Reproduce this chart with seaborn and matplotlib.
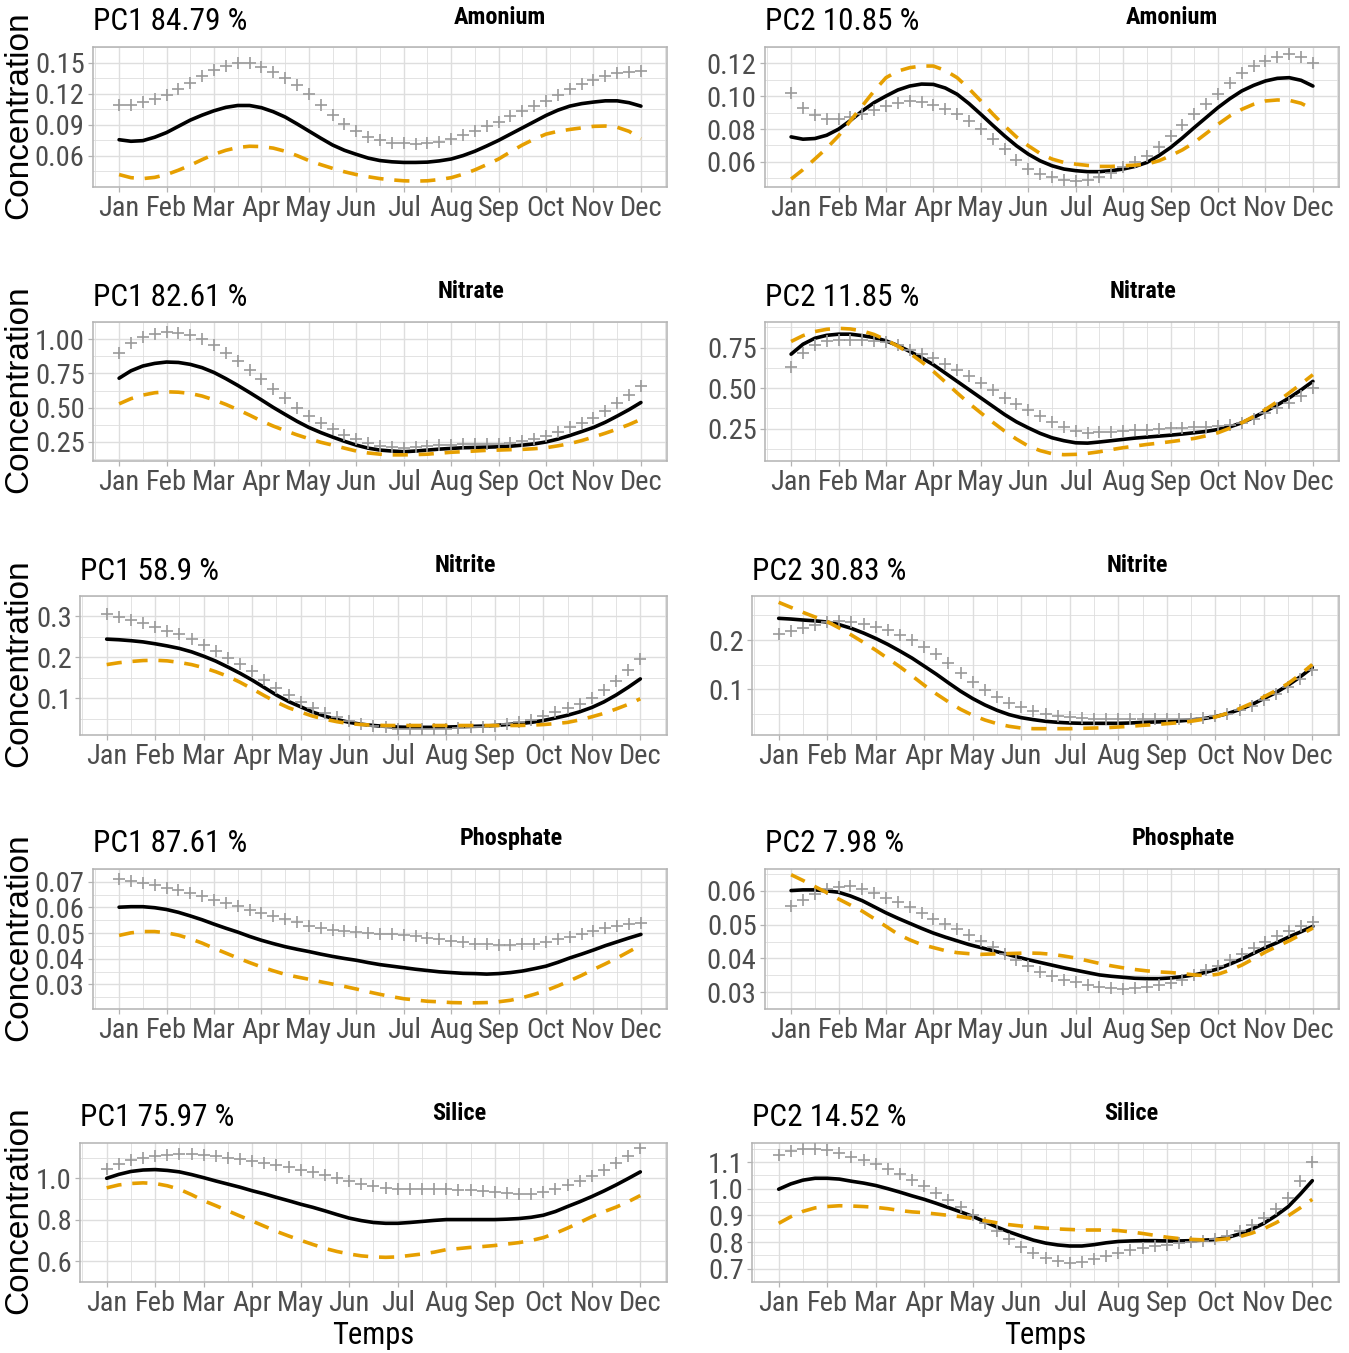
import numpy as np
import pandas as pd
import matplotlib
matplotlib.use("Agg")
import matplotlib.pyplot as plt
from matplotlib import font_manager
import seaborn as sns

# ---- data: curves sampled every quarter month -----------------------------
months = [1, 1.25, 1.5, 1.75, 2, 2.25, 2.5, 2.75, 3, 3.25, 3.5, 3.75,
          4, 4.25, 4.5, 4.75, 5, 5.25, 5.5, 5.75, 6, 6.25, 6.5, 6.75,
          7, 7.25, 7.5, 7.75, 8, 8.25, 8.5, 8.75, 9, 9.25, 9.5, 9.75,
          10, 10.25, 10.5, 10.75, 11, 11.25, 11.5, 11.75, 12]
month_labels = ["Jan", "Feb", "Mar", "Apr", "May", "Jun",
                "Jul", "Aug", "Sep", "Oct", "Nov", "Dec"]

# Amonium
amo_pc1_pct = "84.79"
amo_pc1_mean = [.0756, .0741, .0747, .0780, .0825, .0885, .0945, .0993, .1035, .1068, .1086, .1086,
                .1065, .1026, .0975, .0909, .0840, .0771, .0705, .0654, .0615, .0579, .0555, .0543,
                .0537, .0537, .0540, .0552, .0570, .0603, .0645, .0696, .0750, .0810, .0870, .0930,
                .0990, .1041, .1080, .1104, .1119, .1131, .1131, .1113, .1080]
amo_pc1_plus = [.1086, .1095, .1119, .1146, .1185, .1242, .1305, .1368, .1425, .1470, .1494, .1491,
                .1461, .1413, .1350, .1281, .1200, .1095, .0990, .0906, .0840, .0786, .0750, .0729,
                .0720, .0717, .0720, .0738, .0765, .0798, .0840, .0885, .0930, .0981, .1035, .1080,
                .1125, .1185, .1245, .1293, .1335, .1371, .1395, .1410, .1416]
amo_pc1_minus = [.0420, .0390, .0381, .0393, .0420, .0462, .0510, .0564, .0615, .0654, .0681, .0693,
                 .0690, .0675, .0645, .0603, .0555, .0516, .0480, .0447, .0420, .0399, .0381, .0369,
                 .0360, .0357, .0360, .0372, .0390, .0423, .0465, .0516, .0570, .0639, .0705, .0762,
                 .0810, .0837, .0855, .0870, .0885, .0888, .0876, .0837, .0765]
amo_pc2_pct = "10.85"
amo_pc2_mean = [.0752, .0738, .0742, .0762, .0799, .0852, .0910, .0961, .1001, .1038, .1062, .1074,
                .1072, .1050, .1012, .0955, .0890, .0823, .0758, .0698, .0647, .0606, .0576, .0556,
                .0546, .0540, .0540, .0546, .0556, .0572, .0596, .0637, .0687, .0746, .0809, .0870,
                .0931, .0985, .1032, .1066, .1093, .1109, .1113, .1097, .1062]
amo_pc2_plus = [.1018, .0931, .0884, .0864, .0860, .0872, .0890, .0916, .0941, .0961, .0971, .0965,
                .0945, .0920, .0890, .0849, .0799, .0738, .0677, .0612, .0556, .0525, .0505, .0491,
                .0485, .0491, .0505, .0531, .0566, .0600, .0637, .0693, .0758, .0825, .0890, .0951,
                .1012, .1078, .1143, .1184, .1214, .1241, .1255, .1241, .1204]
amo_pc2_minus = [.0495, .0552, .0617, .0683, .0758, .0850, .0941, .1032, .1113, .1153, .1174, .1184,
                 .1184, .1157, .1113, .1046, .0971, .0892, .0819, .0752, .0698, .0651, .0617, .0596,
                 .0586, .0578, .0572, .0572, .0576, .0580, .0586, .0606, .0637, .0673, .0718, .0773,
                 .0829, .0880, .0920, .0951, .0971, .0977, .0975, .0957, .0920]

# Nitrate
nta_pc1_pct = "82.61"
nta_pc1_mean = [.715, .769, .804, .823, .833, .830, .816, .792, .757, .712, .663, .611,
                .557, .502, .451, .401, .356, .319, .286, .255, .227, .205, .191, .184,
                .179, .184, .191, .198, .203, .208, .210, .212, .215, .219, .227, .236,
                .250, .271, .297, .326, .356, .394, .439, .486, .538]
nta_pc1_plus = [.901, .972, 1.017, 1.038, 1.050, 1.047, 1.028, 1.000, .958, .901, .840, .776,
                .710, .639, .568, .500, .439, .389, .344, .304, .269, .241, .222, .212,
                .203, .210, .222, .229, .231, .236, .236, .236, .238, .245, .257, .271,
                .293, .321, .356, .392, .427, .474, .533, .594, .660]
nta_pc1_minus = [.528, .566, .592, .609, .616, .613, .604, .585, .557, .524, .486, .446,
                 .403, .366, .333, .302, .274, .248, .227, .205, .184, .170, .161, .156,
                 .156, .158, .161, .168, .175, .179, .184, .189, .191, .194, .196, .201,
                 .208, .222, .238, .260, .286, .314, .344, .377, .415]
nta_pc2_pct = "11.85"
nta_pc2_mean = [.709, .770, .807, .825, .832, .832, .823, .811, .791, .762, .726, .687,
                .644, .593, .542, .491, .440, .389, .338, .293, .256, .222, .195, .177,
                .164, .162, .169, .177, .185, .193, .199, .205, .211, .218, .226, .234,
                .246, .262, .287, .320, .358, .397, .440, .489, .542]
nta_pc2_plus = [.632, .717, .766, .789, .795, .799, .795, .793, .785, .766, .736, .711,
                .685, .648, .613, .575, .532, .487, .440, .401, .365, .328, .293, .262,
                .236, .226, .228, .232, .236, .242, .244, .248, .252, .254, .260, .260,
                .267, .271, .287, .313, .348, .377, .409, .452, .501]
nta_pc2_minus = [.787, .823, .848, .862, .868, .864, .852, .830, .797, .758, .715, .662,
                 .603, .538, .471, .407, .348, .291, .236, .187, .144, .116, .097, .091,
                 .093, .099, .109, .122, .134, .144, .154, .162, .171, .181, .191, .207,
                 .226, .254, .287, .326, .369, .417, .471, .526, .583]

# Nitrite
nti_pc1_pct = "58.9"
nti_pc1_mean = [.2445, .2430, .2407, .2377, .2331, .2278, .2217, .2134, .2027, .1906, .1761, .1609,
                .1442, .1260, .1077, .0918, .0789, .0659, .0560, .0477, .0408, .0363, .0332, .0310,
                .0294, .0287, .0287, .0287, .0294, .0302, .0310, .0317, .0332, .0355, .0378, .0408,
                .0454, .0515, .0583, .0667, .0773, .0910, .1077, .1267, .1472]
nti_pc1_plus = [.3068, .2992, .2916, .2833, .2734, .2643, .2559, .2445, .2308, .2164, .1989, .1830,
                .1655, .1457, .1252, .1070, .0918, .0758, .0636, .0530, .0439, .0370, .0325, .0287,
                .0256, .0241, .0241, .0241, .0256, .0272, .0287, .0302, .0332, .0378, .0424, .0477,
                .0553, .0652, .0758, .0864, .1001, .1191, .1419, .1685, .1959]
nti_pc1_minus = [.1822, .1868, .1898, .1921, .1928, .1913, .1875, .1822, .1746, .1647, .1533, .1389,
                 .1229, .1062, .0902, .0766, .0659, .0560, .0484, .0424, .0378, .0355, .0340, .0332,
                 .0332, .0332, .0332, .0332, .0332, .0332, .0332, .0332, .0332, .0332, .0332, .0340,
                 .0355, .0378, .0408, .0469, .0545, .0629, .0735, .0849, .0986]
nti_pc2_pct = "30.83"
nti_pc2_mean = [.2442, .2428, .2408, .2391, .2367, .2313, .2238, .2143, .2034, .1912, .1776, .1633,
                .1470, .1306, .1130, .0960, .0810, .0681, .0572, .0484, .0422, .0382, .0348, .0327,
                .0314, .0307, .0307, .0307, .0307, .0314, .0327, .0334, .0341, .0354, .0375, .0402,
                .0443, .0504, .0586, .0688, .0810, .0932, .1082, .1252, .1442]
nti_pc2_plus = [.2116, .2190, .2252, .2313, .2360, .2381, .2374, .2333, .2272, .2197, .2102, .1993,
                .1864, .1708, .1524, .1334, .1150, .0987, .0844, .0728, .0640, .0565, .0504, .0463,
                .0436, .0416, .0402, .0395, .0388, .0388, .0388, .0388, .0388, .0395, .0402, .0422,
                .0456, .0504, .0572, .0660, .0776, .0898, .1048, .1211, .1388]
nti_pc2_minus = [.2768, .2666, .2564, .2469, .2374, .2245, .2102, .1952, .1796, .1626, .1456, .1272,
                 .1082, .0905, .0742, .0592, .0470, .0375, .0300, .0246, .0211, .0198, .0198, .0198,
                 .0198, .0205, .0211, .0218, .0232, .0246, .0266, .0280, .0300, .0320, .0348, .0388,
                 .0436, .0511, .0606, .0715, .0844, .0973, .1116, .1300, .1504]

# Phosphate
pho_pc1_pct = "87.61"
pho_pc1_mean = [.0601, .0603, .0603, .0599, .0592, .0581, .0567, .0552, .0535, .0519, .0504, .0487,
                .0472, .0459, .0447, .0437, .0428, .0418, .0409, .0401, .0394, .0385, .0377, .0371,
                .0365, .0359, .0354, .0349, .0346, .0343, .0342, .0340, .0342, .0346, .0352, .0361,
                .0371, .0386, .0403, .0418, .0434, .0451, .0466, .0481, .0495]
pho_pc1_plus = [.0710, .0703, .0694, .0686, .0677, .0667, .0656, .0643, .0630, .0618, .0605, .0592,
                .0580, .0567, .0554, .0542, .0529, .0520, .0513, .0508, .0504, .0501, .0497, .0495,
                .0491, .0487, .0482, .0476, .0470, .0465, .0459, .0456, .0453, .0453, .0456, .0459,
                .0466, .0475, .0485, .0497, .0510, .0520, .0529, .0535, .0541]
pho_pc1_minus = [.0491, .0501, .0506, .0506, .0501, .0492, .0478, .0461, .0441, .0422, .0403, .0385,
                 .0368, .0353, .0339, .0329, .0320, .0310, .0301, .0292, .0282, .0271, .0261, .0252,
                 .0244, .0239, .0234, .0232, .0229, .0228, .0228, .0229, .0232, .0238, .0248, .0261,
                 .0276, .0294, .0314, .0335, .0358, .0380, .0403, .0428, .0453]
pho_pc2_pct = "7.98"
pho_pc2_mean = [.0601, .0603, .0603, .0600, .0596, .0585, .0571, .0553, .0535, .0519, .0504, .0489,
                .0475, .0463, .0452, .0441, .0432, .0423, .0414, .0405, .0396, .0388, .0380, .0372,
                .0365, .0358, .0351, .0347, .0344, .0341, .0340, .0340, .0342, .0346, .0351, .0359,
                .0369, .0383, .0398, .0415, .0432, .0447, .0464, .0479, .0495]
pho_pc2_plus = [.0554, .0574, .0592, .0605, .0613, .0614, .0606, .0594, .0579, .0566, .0552, .0535,
                .0518, .0502, .0487, .0468, .0452, .0433, .0414, .0395, .0376, .0361, .0348, .0337,
                .0329, .0322, .0315, .0312, .0310, .0312, .0316, .0321, .0326, .0337, .0351, .0365,
                .0378, .0396, .0414, .0432, .0450, .0466, .0481, .0495, .0508]
pho_pc2_minus = [.0648, .0631, .0613, .0595, .0576, .0558, .0540, .0518, .0495, .0472, .0455, .0441,
                 .0432, .0423, .0417, .0414, .0412, .0413, .0414, .0415, .0416, .0415, .0412, .0407,
                 .0401, .0393, .0385, .0378, .0372, .0367, .0363, .0360, .0358, .0355, .0351, .0349,
                 .0353, .0365, .0380, .0399, .0419, .0436, .0452, .0471, .0490]

# Silice
sil_pc1_pct = "75.97"
sil_pc1_mean = [1.000, 1.019, 1.033, 1.040, 1.042, 1.038, 1.031, 1.018, 1.003, .987, .972, .957,
                .940, .925, .908, .892, .875, .860, .843, .825, .808, .796, .787, .783,
                .783, .787, .792, .797, .801, .801, .801, .801, .801, .803, .806, .812,
                .822, .840, .864, .887, .912, .939, .968, .999, 1.031]
sil_pc1_plus = [1.044, 1.068, 1.086, 1.099, 1.107, 1.113, 1.117, 1.117, 1.114, 1.107, 1.100, 1.092,
                1.083, 1.075, 1.065, 1.054, 1.042, 1.029, 1.017, 1.001, .986, .972, .961, .953,
                .947, .947, .947, .947, .947, .946, .943, .940, .936, .931, .926, .926,
                .933, .947, .968, .987, 1.010, 1.039, 1.072, 1.107, 1.144]
sil_pc1_minus = [.954, .968, .975, .978, .975, .964, .947, .921, .892, .868, .843, .818,
                 .794, .769, .744, .722, .701, .681, .662, .647, .635, .626, .621, .619,
                 .621, .628, .635, .644, .656, .661, .667, .671, .676, .683, .690, .700,
                 .714, .735, .760, .787, .815, .839, .861, .887, .917]
sil_pc2_pct = "14.52"
sil_pc2_mean = [.998, 1.018, 1.032, 1.039, 1.039, 1.036, 1.028, 1.021, 1.012, 1.000, .987, .973,
                .960, .945, .929, .913, .896, .876, .856, .838, .822, .807, .796, .789,
                .785, .785, .790, .797, .802, .804, .805, .805, .804, .804, .805, .807,
                .809, .817, .830, .848, .870, .899, .932, .979, 1.030]
sil_pc2_plus = [1.125, 1.140, 1.148, 1.150, 1.145, 1.135, 1.120, 1.108, 1.093, 1.075, 1.055, 1.033,
                1.010, .985, .958, .930, .903, .872, .840, .810, .783, .758, .740, .728,
                .723, .725, .735, .748, .760, .770, .778, .785, .790, .795, .800, .805,
                .810, .822, .840, .862, .890, .925, .965, 1.030, 1.100]
sil_pc2_minus = [.870, .895, .915, .928, .933, .936, .935, .933, .930, .925, .918, .913,
                 .910, .905, .900, .895, .888, .880, .872, .865, .860, .856, .852, .849,
                 .847, .845, .845, .845, .843, .838, .832, .825, .818, .813, .810, .808,
                 .808, .812, .820, .833, .850, .872, .898, .928, .960]

# ---- panel descriptions ---------------------------------------------------
panels = [
    # (name, pc, pct, mean, plus, minus, yticks, decimals)
    ("Amonium", 1, amo_pc1_pct, amo_pc1_mean, amo_pc1_plus, amo_pc1_minus, [0.06, 0.09, 0.12, 0.15], 2),
    ("Amonium", 2, amo_pc2_pct, amo_pc2_mean, amo_pc2_plus, amo_pc2_minus, [0.06, 0.08, 0.10, 0.12], 2),
    ("Nitrate", 1, nta_pc1_pct, nta_pc1_mean, nta_pc1_plus, nta_pc1_minus, [0.25, 0.50, 0.75, 1.00], 2),
    ("Nitrate", 2, nta_pc2_pct, nta_pc2_mean, nta_pc2_plus, nta_pc2_minus, [0.25, 0.50, 0.75], 2),
    ("Nitrite", 1, nti_pc1_pct, nti_pc1_mean, nti_pc1_plus, nti_pc1_minus, [0.1, 0.2, 0.3], 1),
    ("Nitrite", 2, nti_pc2_pct, nti_pc2_mean, nti_pc2_plus, nti_pc2_minus, [0.1, 0.2], 1),
    ("Phosphate", 1, pho_pc1_pct, pho_pc1_mean, pho_pc1_plus, pho_pc1_minus, [0.03, 0.04, 0.05, 0.06, 0.07], 2),
    ("Phosphate", 2, pho_pc2_pct, pho_pc2_mean, pho_pc2_plus, pho_pc2_minus, [0.03, 0.04, 0.05, 0.06], 2),
    ("Silice", 1, sil_pc1_pct, sil_pc1_mean, sil_pc1_plus, sil_pc1_minus, [0.6, 0.8, 1.0], 1),
    ("Silice", 2, sil_pc2_pct, sil_pc2_mean, sil_pc2_plus, sil_pc2_minus, [0.7, 0.8, 0.9, 1.0, 1.1], 1),
]

# ---- fonts: prefer a narrow sans for ticks and titles ---------------------
sns.set_theme(style="white")

entries = font_manager.fontManager.ttflist
names = {f.name for f in entries}
narrow = None
narrow_stretch = "normal"
for cand in ["Liberation Sans Narrow", "Roboto Condensed", "Open Sans Condensed",
             "Noto Sans Condensed", "DejaVu Sans Condensed"]:
    if cand in names:
        narrow = cand
        break
if narrow is None:
    for f in entries:
        if f.name in ("Noto Sans", "Roboto", "Open Sans", "DejaVu Sans") and \
                str(f.stretch) in ("condensed", "semi-condensed", "75", "87.5"):
            narrow, narrow_stretch = f.name, "condensed"
            break

if narrow is None:
    narrow = "Liberation Sans"
    scale = 0.84          # regular width: shrink so the labels occupy the same room
else:
    scale = 1.0
plt.rcParams["font.family"] = [narrow, "DejaVu Sans"]
plt.rcParams["font.stretch"] = narrow_stretch

W, H = 1349, 1353
fig = plt.figure(figsize=(W / 100, H / 100), dpi=100)
fig.patch.set_facecolor("white")

row_y = [(47, 187), (322, 461), (596, 735), (869, 1009), (1143, 1282)]
name_cx = [500, 471, 465, 511, 459]
wide_rows = {2, 4}

tick_grey = "#4D4D4D"
frame_grey = "#B3B3B3"
grid_grey = "#DEDEDE"
orange = "#E69F00"

for i, (name, pc, pct, mean, plus, minus, yticks, dec) in enumerate(panels):
    r, c = divmod(i, 2)
    y0, y1 = row_y[r]
    x0 = (80 if r in wide_rows else 93) + 672 * c
    x1 = 667 + 672 * c
    ax = fig.add_axes([x0 / W, 1 - y1 / H, (x1 - x0) / W, (y1 - y0) / H])

    df = pd.DataFrame({"month": months, "mean": mean, "plus": plus, "minus": minus})

    sns.lineplot(data=df, x="month", y="mean", ax=ax, color="black", linewidth=2.6,
                 solid_joinstyle="round", solid_capstyle="round", zorder=3)
    sns.scatterplot(data=df, x="month", y="plus", ax=ax, marker="+", color="#9A9A9A",
                    s=70, linewidth=1.2, zorder=4)
    sns.lineplot(data=df, x="month", y="minus", ax=ax, color=orange, linewidth=2.6,
                 linestyle=(0, (4.2, 3.0)), dash_joinstyle="round", zorder=5)

    lo = min(min(mean), min(plus), min(minus))
    hi = max(max(mean), max(plus), max(minus))
    pad = (hi - lo) * 0.05
    ax.set_ylim(lo - pad, hi + pad)
    ax.set_xlim(1 - 0.55, 12 + 0.55)

    ax.set_xticks(range(1, 13))
    ax.set_xticklabels(month_labels)
    ax.set_xticks([m + 0.5 for m in range(0, 13)], minor=True)
    ax.set_yticks(yticks)
    ax.set_yticklabels([f"{v:.{dec}f}" for v in yticks])
    step = yticks[1] - yticks[0]
    ax.set_yticks([yticks[0] - step / 2] + [v + step / 2 for v in yticks], minor=True)

    ax.grid(which="major", color=grid_grey, linewidth=1.0)
    ax.grid(which="minor", color=grid_grey, linewidth=0.6)
    ax.set_axisbelow(True)
    for sp in ax.spines.values():
        sp.set_color(frame_grey)
        sp.set_linewidth(1.1)
    ax.tick_params(which="major", length=3.5, width=0.9, color=frame_grey,
                   labelsize=20.5 * scale, labelcolor=tick_grey, pad=2.5)
    ax.tick_params(which="minor", length=0)
    ax.tick_params(axis="x", bottom=True)
    ax.tick_params(axis="y", left=True)
    ax.set_xlabel("")
    ax.set_ylabel("")

    # panel titles
    fig.text(x0 / W, 1 - (y0 - 25) / H, f"PC{pc} {pct} %", ha="left", va="center",
             fontsize=22.5 * scale, color="black")
    fig.text((name_cx[r] + 672 * c) / W, 1 - (y0 - 30) / H, name, ha="center", va="center",
             fontsize=17.5 * scale, fontweight="bold", color="black")

    if c == 0:
        fig.text(19 / W, 1 - ((y0 + y1) / 2 - 2) / H, "Concentration", rotation=90,
                 ha="center", va="center", fontsize=24, color="black",
                 family=["Liberation Sans", "DejaVu Sans"], stretch="normal")
    if r == 4:
        fig.text(((x0 + x1) / 2) / W, 1 - 1336 / H, "Temps", ha="center", va="center",
                 fontsize=22 * scale, color="black")

fig.savefig("out.png", dpi=100, facecolor="white")
